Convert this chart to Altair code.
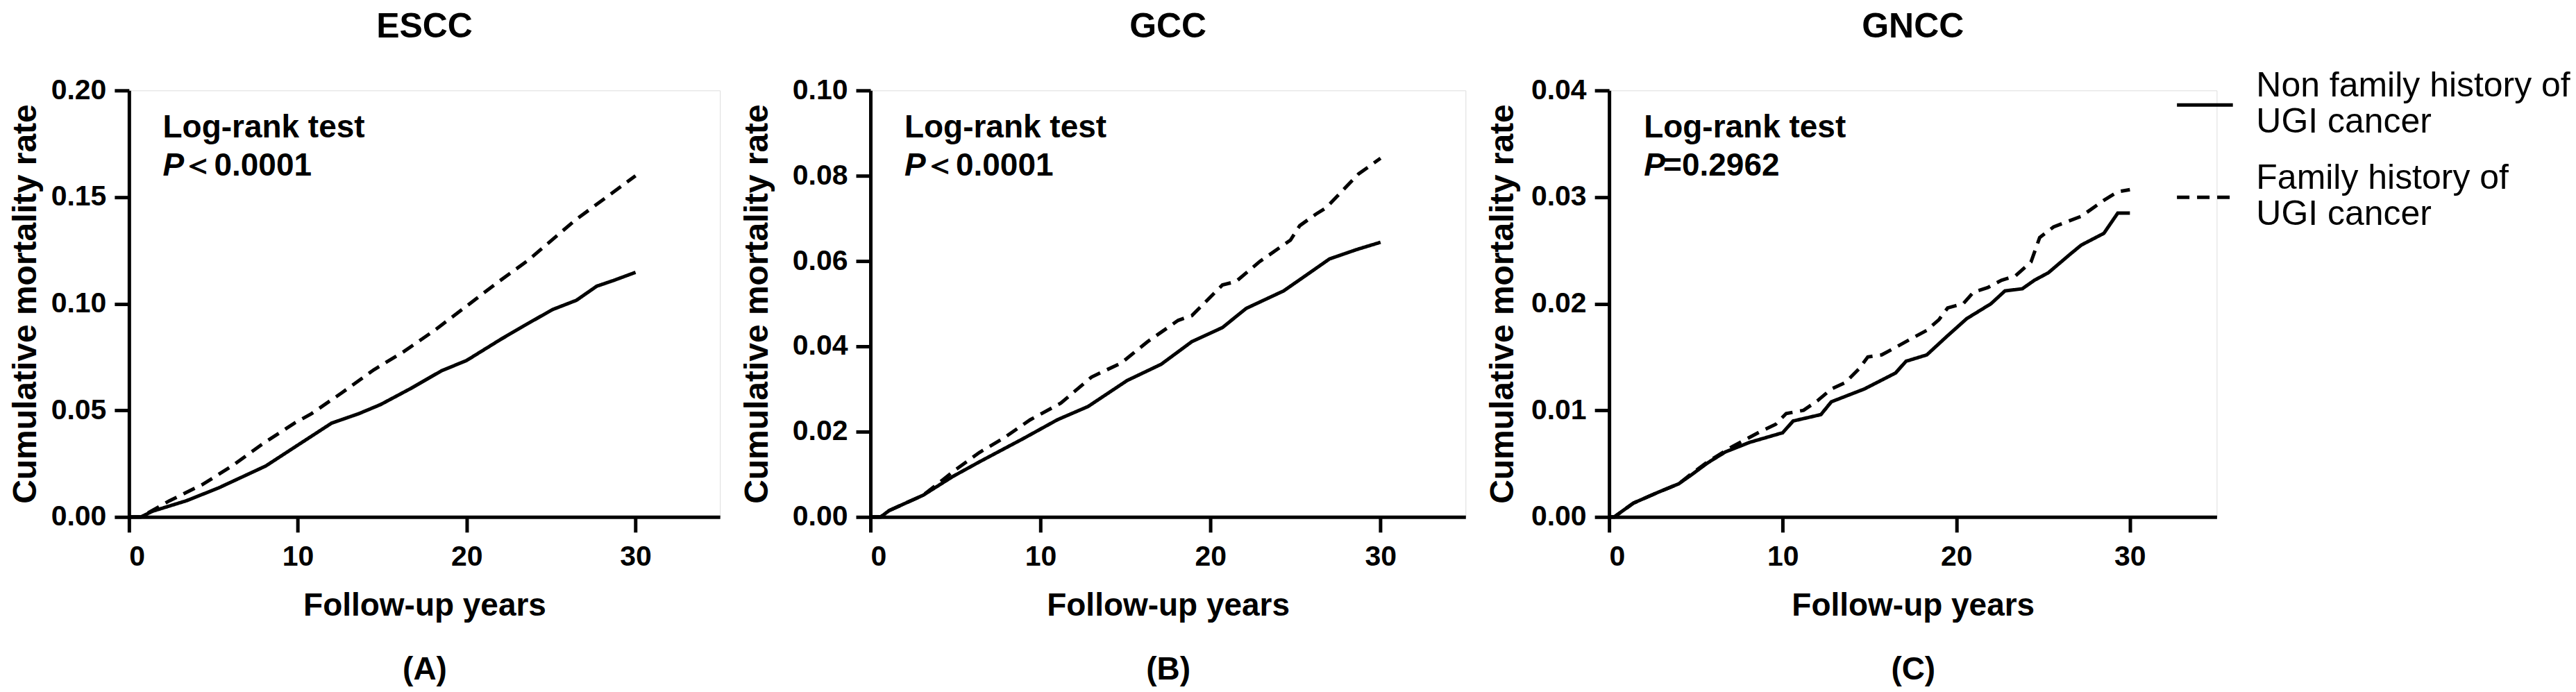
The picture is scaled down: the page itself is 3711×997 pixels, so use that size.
import altair as alt
import pandas as pd

FONT = "Liberation Sans"

# ---------------- data ----------------
group_labels = ["Non family history of UGI cancer", "Family history of UGI cancer"]

panel_titles = ["ESCC", "GCC", "GNCC"]
panel_letters = ["(A)", "(B)", "(C)"]
p_rest_texts = ["\uff1c0.0001", "\uff1c0.0001", "=0.2962"]
y_maxes = [0.20, 0.10, 0.04]
y_tick_values = [
    [0.00, 0.05, 0.10, 0.15, 0.20],
    [0.00, 0.02, 0.04, 0.06, 0.08, 0.10],
    [0.00, 0.01, 0.02, 0.03, 0.04],
]
x_tick_values = [0, 10, 20, 30]

# ESCC
escc_non_t = [0, 0.7, 1.4, 3.4, 5.3, 8.1, 10.0, 12.0, 13.6, 14.9, 16.7, 18.5, 20.0, 22.0, 23.4, 25.1, 26.5, 27.7, 28.7, 30.0]
escc_non_v = [0, 0, 0.0027, 0.0076, 0.0136, 0.0239, 0.0337, 0.0440, 0.0484, 0.0527, 0.0603, 0.0685, 0.0734, 0.0832, 0.0897, 0.0973, 0.1016, 0.1082, 0.1109, 0.1147]
escc_fam_t = [0, 0.7, 2.4, 4.35, 6.1, 7.9, 9.8, 10.8, 12.6, 14.5, 16.3, 18.1, 20.0, 21.8, 23.6, 26.4, 30.0]
escc_fam_v = [0, 0, 0.0076, 0.0152, 0.0239, 0.0342, 0.0440, 0.0484, 0.0582, 0.0690, 0.0777, 0.0875, 0.0989, 0.1098, 0.1201, 0.1390, 0.1600]

# GCC
gcc_non_t = [0, 0.6, 1.1, 3.1, 4.85, 6.4, 9.0, 11.0, 12.8, 15.1, 17.1, 18.9, 20.7, 22.1, 24.3, 25.6, 27.0, 28.6, 30.0]
gcc_non_v = [0, 0, 0.0015, 0.0051, 0.0095, 0.0129, 0.0184, 0.0228, 0.0259, 0.0320, 0.0358, 0.0411, 0.0444, 0.0489, 0.0530, 0.0566, 0.0605, 0.0627, 0.0644]
gcc_fam_t = [0, 0.6, 1.1, 3.1, 5.05, 6.4, 7.8, 9.4, 11.2, 13.0, 14.75, 16.3, 18.1, 18.9, 20.7, 21.5, 22.9, 24.7, 25.25, 26.2, 26.8, 28.7, 30.0]
gcc_fam_v = [0, 0, 0.0015, 0.0051, 0.0112, 0.0151, 0.0184, 0.0228, 0.0267, 0.0328, 0.0361, 0.0411, 0.0461, 0.0472, 0.0544, 0.0552, 0.0599, 0.0649, 0.0683, 0.0710, 0.0725, 0.0804, 0.0841]

# GNCC
gncc_non_t = [0, 0.3, 0.63, 1.4, 2.8, 4.0, 4.7, 5.7, 6.7, 8.1, 10.0, 10.6, 12.2, 12.8, 14.7, 16.5, 17.1, 18.3, 19.5, 20.6, 22.0, 22.8, 23.8, 24.5, 25.3, 26.6, 27.2, 28.5, 29.3, 30.0]
gncc_non_v = [0, 0, 0.0004, 0.0013, 0.0023, 0.0031, 0.0039, 0.0051, 0.0061, 0.0070, 0.0079, 0.0090, 0.0096, 0.0108, 0.0120, 0.0135, 0.0146, 0.0152, 0.0170, 0.0186, 0.0200, 0.0212, 0.0214, 0.0222, 0.0229, 0.0247, 0.0255, 0.0266, 0.0285, 0.0285]
gncc_fam_t = [0, 0.3, 0.63, 1.4, 2.8, 4.0, 4.7, 5.7, 7.1, 8.7, 9.6, 10.2, 11.2, 12.0, 12.8, 13.6, 14.4, 14.9, 15.7, 16.5, 17.5, 18.3, 19.0, 19.5, 20.4, 21.0, 21.8, 22.6, 23.4, 24.3, 24.8, 25.6, 27.2, 28.5, 29.3, 30.0]
gncc_fam_v = [0, 0, 0.0004, 0.0013, 0.0023, 0.0031, 0.0040, 0.0052, 0.0066, 0.0080, 0.0087, 0.0097, 0.0100, 0.0109, 0.0120, 0.0126, 0.0139, 0.0150, 0.0152, 0.0159, 0.0168, 0.0175, 0.0185, 0.0196, 0.0200, 0.0211, 0.0215, 0.0222, 0.0226, 0.0239, 0.0262, 0.0272, 0.0282, 0.0297, 0.0305, 0.0307]

series = [
    (escc_non_t, escc_non_v, escc_fam_t, escc_fam_v),
    (gcc_non_t, gcc_non_v, gcc_fam_t, gcc_fam_v),
    (gncc_non_t, gncc_non_v, gncc_fam_t, gncc_fam_v),
]

# ---------------- layout / style ----------------
panel_widths = [852, 858, 876]
panel_height = 615
y_title_pads = [12, 26, 16]
annot_x = 2.0

dash_scale = alt.Scale(domain=group_labels, range=[[1, 0], [18, 11]])

legend = alt.Legend(
    title=None,
    orient="none",
    legendX=2950,
    legendY=-22,
    symbolType="stroke",
    symbolSize=6500,
    symbolStrokeWidth=5,
    symbolStrokeColor="black",
    labelFont=FONT,
    labelFontSize=50,
    labelFontWeight="normal",
    labelColor="black",
    labelBaseline="line-bottom",
    labelLimit=2000,
    labelOffset=31,
    rowPadding=31,
    labelExpr="datum.label == 'Non family history of UGI cancer' ? ['Non family history of', 'UGI cancer'] : ['Family history of', 'UGI cancer']",
)


def make_panel(i):
    nt, nv, ft, fv = series[i]
    df = pd.concat([
        pd.DataFrame({"t": nt, "v": nv, "group": group_labels[0]}),
        pd.DataFrame({"t": ft, "v": fv, "group": group_labels[1]}),
    ])
    ymax = y_maxes[i]

    x_axis = alt.Axis(
        values=x_tick_values,
        title=["Follow-up years", panel_letters[i]],
        titleFont=FONT, titleFontSize=46, titleFontWeight="bold", titleColor="black",
        titleLineHeight=92, titlePadding=28,
        labelFont=FONT, labelFontSize=41, labelFontWeight="bold", labelColor="black",
        labelPadding=16, tickSize=22, tickWidth=5, tickColor="black",
        domainWidth=5, domainColor="black", grid=False,
    )
    y_axis = alt.Axis(
        values=y_tick_values[i], format=".2f",
        title="Cumulative mortality rate",
        titleFont=FONT, titleFontSize=48, titleFontWeight="bold", titleColor="black",
        titlePadding=y_title_pads[i],
        labelFont=FONT, labelFontSize=41, labelFontWeight="bold", labelColor="black",
        labelPadding=12, tickSize=21, tickWidth=5, tickColor="black",
        domainWidth=5, domainColor="black", grid=False,
    )

    lines = alt.Chart(df).mark_line(color="black", strokeWidth=5).encode(
        x=alt.X("t:Q", scale=alt.Scale(domain=[0, 35], nice=False, zero=True), axis=x_axis),
        y=alt.Y("v:Q", scale=alt.Scale(domain=[0, ymax], nice=False), axis=y_axis),
        strokeDash=alt.StrokeDash("group:N", scale=dash_scale, legend=legend),
        order=alt.Order("t:Q"),
    )

    t1 = alt.Chart(pd.DataFrame({"x": [annot_x], "y": [ymax * 0.89], "s": ["Log-rank test"]})).mark_text(
        align="left", baseline="alphabetic", font=FONT, fontSize=46, fontWeight="bold", color="black"
    ).encode(x="x:Q", y="y:Q", text="s:N")

    tp = alt.Chart(pd.DataFrame({"x": [annot_x], "y": [ymax * 0.80], "s": ["P"]})).mark_text(
        align="left", baseline="alphabetic", font=FONT, fontSize=46, fontWeight="bold",
        fontStyle="italic", color="black"
    ).encode(x="x:Q", y="y:Q", text="s:N")

    tr = alt.Chart(pd.DataFrame({"x": [annot_x], "y": [ymax * 0.80], "s": [p_rest_texts[i]]})).mark_text(
        align="left", baseline="alphabetic", font=FONT, fontSize=46, fontWeight="bold",
        color="black", dx=28
    ).encode(x="x:Q", y="y:Q", text="s:N")

    return alt.layer(lines, t1, tp, tr).properties(
        width=panel_widths[i],
        height=panel_height,
        title=alt.TitleParams(
            text=panel_titles[i], font=FONT, fontSize=50, fontWeight="bold",
            color="black", anchor="middle", offset=45,
        ),
    )


chart = alt.hconcat(make_panel(0), make_panel(1), make_panel(2), spacing=28).properties(
    padding={"left": 4, "top": 5, "right": 0, "bottom": 0}
).configure_view(stroke=None).configure(background="white")

chart.save("out.html", embed_options={"renderer": "svg", "actions": False})
